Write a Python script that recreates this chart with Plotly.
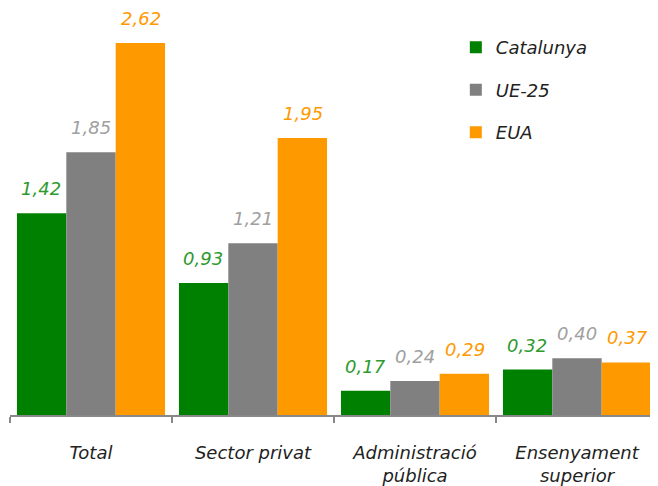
import plotly.graph_objects as go

categories = ["Total", "Sector privat", "Administració<br>pública", "Ensenyament<br>superior"]
series_names = ["Catalunya", "UE-25", "EUA"]
catalunya = [1.42, 0.93, 0.17, 0.32]
ue25 = [1.85, 1.21, 0.24, 0.40]
eua = [2.62, 1.95, 0.29, 0.37]

bar_colors = ["#008000", "#808080", "#FF9900"]
label_colors = ["#2E9A2E", "#A0A0A0", "#FF9900"]
FONT = "DejaVu Sans"

fig = go.Figure()
for i, (name, vals) in enumerate(zip(series_names, [catalunya, ue25, eua])):
    fig.add_trace(go.Bar(
        x=categories,
        y=vals,
        name=name,
        legendgroup=name,
        marker_color=bar_colors[i],
        marker_line_width=0,
    ))
    # value labels above bars
    for c, v in zip(categories, vals):
        fig.add_annotation(
            x=c, y=v, xref="x", yref="y",
            text=f"{v:.2f}".replace(".", ","),
            showarrow=False,
            yanchor="bottom",
            xshift=(i - 1) * 50,
            yshift=12,
            font=dict(family=FONT, size=18, color=label_colors[i], style="italic"),
        )

# page body has an 8px margin, so the figure is a bit smaller than the window
fig.update_layout(
    width=650, height=478,
    margin=dict(l=2, r=0, t=0, b=71, autoexpand=False),
    plot_bgcolor="white",
    paper_bgcolor="white",
    barmode="group",
    bargap=0.086,
    bargroupgap=0,
    font=dict(family=FONT, size=18, color="#222222", style="italic"),
    legend=dict(
        x=0.688, y=0.948, xanchor="left", yanchor="top",
        font=dict(family=FONT, size=18, color="#222222", style="italic"),
        tracegroupgap=16,
        itemwidth=30,
        bgcolor="rgba(0,0,0,0)",
    ),
    showlegend=True,
)
fig.update_xaxes(
    automargin=False,
    showline=True, linecolor="#888888", linewidth=2,
    ticks="outside", tickson="boundaries", ticklen=6, tickcolor="#888888", tickwidth=2,
    ticklabelstandoff=20,
    tickfont=dict(family=FONT, size=18, color="#222222", style="italic"),
)
fig.update_yaxes(automargin=False, range=[0, 2.866], visible=False, showgrid=False)

fig.write_html("out.html")
